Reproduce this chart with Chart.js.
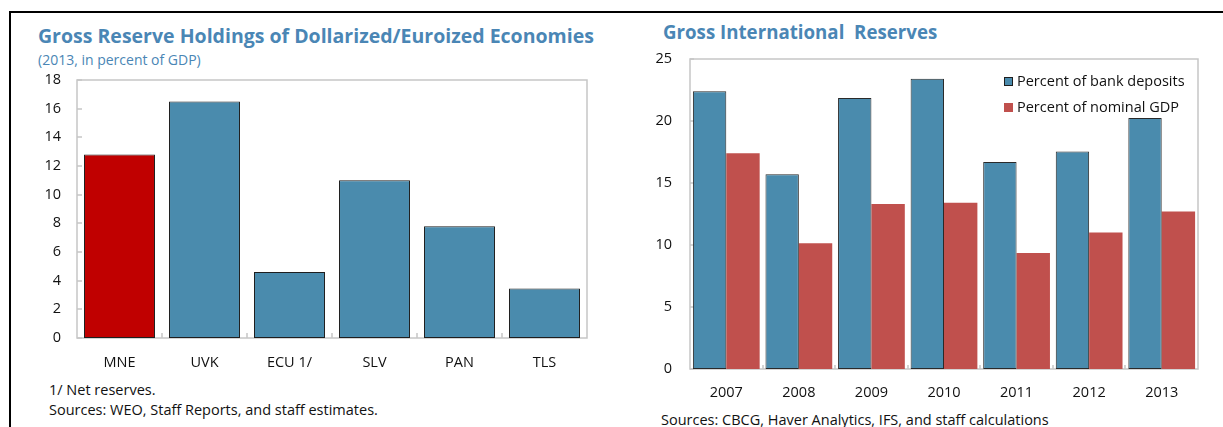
<!DOCTYPE html>
<html>
<head>
<meta charset="utf-8">
<script src="https://cdn.jsdelivr.net/npm/chart.js@4.4.1/dist/chart.umd.min.js"></script>
<style>
  body { margin: 0; background: #fff; font-family: "Open Sans", sans-serif; }
  #page { position: relative; width: 1223px; height: 427px; overflow: hidden; }
  .frame { position: absolute; left: 9px; top: 11px; width: 1230px; height: 430px;
           border-top: 2px solid #000; border-left: 2px solid #000; }
  .txt { position: absolute; white-space: pre; font-size: 14.5px; line-height: 20px; color: #111; }
  .title { font-weight: 700; font-size: 19.5px; line-height: 24px; color: #4a86b5; }
  .sub { color: #4a86b5; font-size: 14px; }
  .sq { position: absolute; width: 9px; height: 9px; box-sizing: border-box; }
  canvas { position: absolute; }
</style>
</head>
<body>
<div id="page">
  <div class="frame"></div>

  <div class="txt title" style="left:38px; top:24px;">Gross Reserve Holdings of Dollarized/Euroized Economies</div>
  <div class="txt sub" style="left:38px; top:50px;">(2013, in percent of GDP)</div>
  <canvas id="left" width="580" height="305" style="left:20px; top:70px;"></canvas>
  <div class="txt" style="left:49px; top:380px;">1/ Net reserves.</div>
  <div class="txt" style="left:49px; top:400px;">Sources: WEO, Staff Reports, and staff estimates.</div>

  <div class="txt title" style="left:663px; top:20px; font-size:18.7px;">Gross International  Reserves</div>
  <canvas id="right" width="603" height="365" style="left:620px; top:40px;"></canvas>
  <div id="legend"></div>
  <div class="txt" style="left:661px; top:410px;">Sources: CBCG, Haver Analytics, IFS, and staff calculations</div>
</div>

<script>
// left panel: 2013, percent of GDP
const leftCategories = ['MNE', 'UVK', 'ECU 1/', 'SLV', 'PAN', 'TLS'];
const leftValues = [12.8, 16.5, 4.6, 11.0, 7.8, 3.45];
const leftTicks = [0, 2, 4, 6, 8, 10, 12, 14, 16, 18];
const highlighted = 'MNE';

// right panel
const years = ['2007', '2008', '2009', '2010', '2011', '2012', '2013'];
const bankDeposits = [22.4, 15.7, 21.85, 23.4, 16.7, 17.55, 20.25];
const nominalGDP = [17.4, 10.15, 13.3, 13.4, 9.35, 11.0, 12.7];
const rightTicks = [0, 5, 10, 15, 20, 25];
const seriesNames = ['Percent of bank deposits', 'Percent of nominal GDP'];

const BLUE = '#4a8bad';
const RED = '#c0504d';
const DARK_RED = '#c00000';

Chart.defaults.font.family = '"Open Sans", sans-serif';
Chart.defaults.font.size = 14.5;
Chart.defaults.color = '#111';

// grey box round the plot, short ticks pointing inwards
function framePlugin(tickLen) {
  return {
    id: 'frame',
    beforeDatasetsDraw(chart) {
      const { ctx, chartArea: a, scales: { x, y } } = chart;
      ctx.save();
      ctx.strokeStyle = '#c6c6c6';
      ctx.lineWidth = 1.5;
      ctx.strokeRect(a.left, a.top, a.right - a.left, a.bottom - a.top);
      ctx.beginPath();
      y.ticks.forEach(t => {
        const py = Math.round(y.getPixelForValue(t.value));
        ctx.moveTo(a.left, py);
        ctx.lineTo(a.left + tickLen, py);
      });
      for (let i = 1; i < x.ticks.length; i++) {
        const px = Math.round((x.getPixelForValue(i - 1) + x.getPixelForValue(i)) / 2);
        ctx.moveTo(px, a.bottom);
        ctx.lineTo(px, a.bottom - tickLen);
      }
      ctx.stroke();
      ctx.restore();
    }
  };
}

function scales(ticksList, yWidth, yPad, xHeight, xPad) {
  return {
    x: {
      grid: { display: false, drawTicks: false },
      border: { display: false },
      ticks: { padding: xPad, maxRotation: 0, autoSkip: false },
      afterFit: s => { s.height = xHeight; s.paddingLeft = 0; s.paddingRight = 0; }
    },
    y: {
      min: ticksList[0],
      max: ticksList[ticksList.length - 1],
      grid: { display: false, drawTicks: false },
      border: { display: false },
      ticks: { padding: yPad },
      afterBuildTicks: s => { s.ticks = ticksList.map(v => ({ value: v })); },
      afterFit: s => { s.width = yWidth; s.paddingTop = 0; s.paddingBottom = 0; }
    }
  };
}

new Chart(document.getElementById('left'), {
  type: 'bar',
  data: {
    labels: leftCategories,
    datasets: [{
      data: leftValues,
      backgroundColor: leftCategories.map(c => c === highlighted ? DARK_RED : BLUE),
      borderColor: '#1e1e1e',
      borderWidth: 1,
      borderSkipped: false,
      barPercentage: 0.835,
      categoryPercentage: 1
    }]
  },
  options: {
    responsive: false,
    animation: false,
    devicePixelRatio: 1,
    layout: { padding: { left: 0, right: 13, top: 10, bottom: 0 } },
    plugins: { legend: { display: false }, tooltip: { enabled: false } },
    scales: scales(leftTicks, 57, 16, 37, 16)
  },
  plugins: [framePlugin(5)]
});

const rightChart = new Chart(document.getElementById('right'), {
  type: 'bar',
  data: {
    labels: years,
    datasets: [
      {
        label: seriesNames[0],
        data: bankDeposits,
        backgroundColor: BLUE,
        borderColor: '#2a2a2a',
        borderWidth: 1,
        borderSkipped: false
      },
      {
        label: seriesNames[1],
        data: nominalGDP,
        backgroundColor: RED,
        borderWidth: 0
      }
    ]
  },
  options: {
    responsive: false,
    animation: false,
    devicePixelRatio: 1,
    datasets: { bar: { barPercentage: 1, categoryPercentage: 0.92 } },
    layout: { padding: { left: 0, right: 25, top: 19, bottom: 0 } },
    plugins: { legend: { display: false }, tooltip: { enabled: false } },
    scales: scales(rightTicks, 70, 18, 36, 15)
  },
  plugins: [framePlugin(4)]
});

// legend inside the plot, top right
const legend = document.getElementById('legend');
rightChart.data.datasets.forEach((ds, i) => {
  const cy = 81 + i * 26;
  const sq = document.createElement('div');
  sq.className = 'sq';
  sq.style.left = '1004px';
  sq.style.top = (cy - 4.5) + 'px';
  sq.style.background = ds.backgroundColor;
  if (ds.borderWidth) sq.style.border = '1px solid #1e1e1e';
  legend.appendChild(sq);
  const t = document.createElement('div');
  t.className = 'txt';
  t.style.left = '1017px';
  t.style.top = (cy - 10) + 'px';
  t.textContent = ds.label;
  legend.appendChild(t);
});
</script>
</body>
</html>
